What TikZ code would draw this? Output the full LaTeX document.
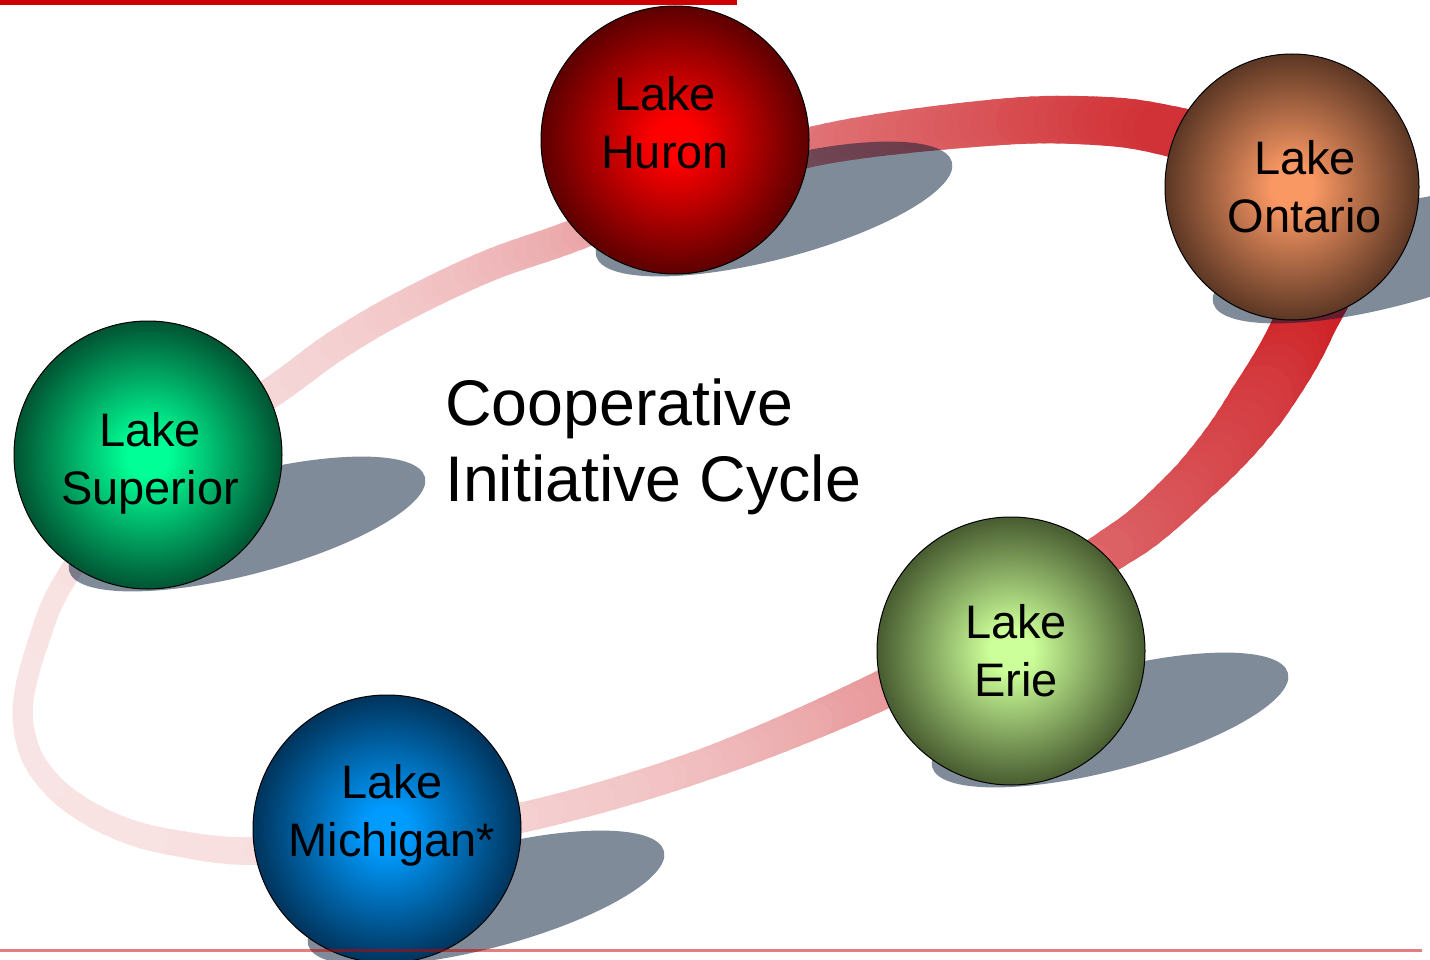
\documentclass[tikz,border=0pt]{standalone}
\usepackage{fontspec}
\setmainfont{Liberation Sans}
\usetikzlibrary{shapes.geometric,decorations.markings}

\definecolor{ribred}{RGB}{205,30,35}
\definecolor{shadowc}{RGB}{0,25,51}
\definecolor{topred}{RGB}{204,0,0}
\definecolor{botred}{RGB}{204,0,0}
\definecolor{huronC}{RGB}{255,0,0}
\definecolor{huronE}{RGB}{92,0,0}
\definecolor{ontC}{RGB}{250,152,100}
\definecolor{ontE}{RGB}{92,55,36}
\definecolor{supC}{RGB}{0,255,150}
\definecolor{supE}{RGB}{0,84,50}
\definecolor{erieC}{RGB}{204,255,153}
\definecolor{erieE}{RGB}{72,92,48}
\definecolor{micC}{RGB}{0,155,255}
\definecolor{micE}{RGB}{0,52,92}

\pgfdeclareradialshading{huronsh}{\pgfpoint{0bp}{0bp}}{color(0bp)=(huronC);color(4bp)=(huronC);color(25bp)=(huronE);color(50bp)=(huronE)}
\pgfdeclareradialshading{ontsh}{\pgfpoint{0bp}{0bp}}{color(0bp)=(ontC);color(4bp)=(ontC);color(25bp)=(ontE);color(50bp)=(ontE)}
\pgfdeclareradialshading{supsh}{\pgfpoint{0bp}{0bp}}{color(0bp)=(supC);color(4bp)=(supC);color(25bp)=(supE);color(50bp)=(supE)}
\pgfdeclareradialshading{eriesh}{\pgfpoint{0bp}{0bp}}{color(0bp)=(erieC);color(4bp)=(erieC);color(25bp)=(erieE);color(50bp)=(erieE)}
\pgfdeclareradialshading{micsh}{\pgfpoint{0bp}{0bp}}{color(0bp)=(micC);color(4bp)=(micC);color(25bp)=(micE);color(50bp)=(micE)}

\makeatletter
\newcommand\pwlin[3]{%
  \gdef\pwl@res{0}\gdef\pwl@pt{-1}\gdef\pwl@pv{0}\gdef\pwl@done{0}%
  \foreach \pa/\pb in #2 {%
    \ifnum\pwl@done=0
      \pgfmathtruncatemacro\pwl@cmp{(#1>\pa)?0:1}%
      \ifnum\pwl@cmp=1
        \pgfmathparse{\pwl@pv+(\pb-\pwl@pv)*(#1-\pwl@pt)/(\pa-\pwl@pt)}%
        \xdef\pwl@res{\pgfmathresult}\gdef\pwl@done{1}%
      \fi
      \xdef\pwl@pt{\pa}\xdef\pwl@pv{\pb}%
    \fi
  }%
  \let#3\pwl@res
}
\makeatother

% parameter u = angle (deg) around the loop centre (700,480), starting at Lake Michigan
\def\widthlist{0/30,8.6/28,30.4/20,45/22,60.2/30,112.7/32,159.7/40,178.6/46,191.6/50,213.8/62,221/60,229/47,239/42,278.1/39,318.6/32,346.6/30,360.1/30}
\def\colorlist{0/18,8.6/15,30.4/12,60.2/18,78.4/24,112.7/38,159.7/62,178.6/76,191.6/91,213.8/100,220.9/89,239.1/71,278.1/47,318.6/31,346.6/22,360.1/18}

\tikzset{
  sphere/.style={circle, minimum size=268pt, inner sep=0pt, shade, draw=black, line width=1pt},
  lakelbl/.style={align=center, inner sep=0pt, text depth=0pt, font=\fontsize{47}{58}\selectfont},
  shadowsty/.style={fill=shadowc, fill opacity=0.5},
}

\begin{document}
\begin{tikzpicture}[x=1pt,y=-1pt]
\useasboundingbox (0,0) rectangle (1430,960);
\fill[white] (0,0) rectangle (1430,960);

% ribbon
\coordinate (prev) at (387,835);
\path[postaction={decorate},decoration={markings,
  mark=between positions 0 and 1 step 0.004 with {
    \pgfgettransformentries{\ma}{\mb}{\mc}{\md}{\mtx}{\mty}
    \pgfmathsetmacro\ru{mod(atan2(-1*(\mty)-480,(\mtx)-700)-131.4+720,360)}
    \pwlin{\ru}{\widthlist}{\rw}
    \pwlin{\ru}{\colorlist}{\rkraw}
    \pgfmathtruncatemacro\rk{\rkraw}
    \draw[line width=\rw pt, draw=ribred!\rk!white, line cap=round] (prev) -- (0,0);
    \coordinate (prev) at (0,0);
  }}]
  plot[smooth cycle, tension=0.6] coordinates {
   (387,835) (257,851) (170,842) (117,827) (73,803) (45,777) (28,747) (23,703)
   (38,643) (65,580) (140,480) (272,392) (334,347) (400,308) (488,266) (580,233)
   (700,180) (830,143) (1000,122) (1100,121) (1165,130) (1240,152) (1300,197)
   (1330,262) (1306,320) (1287,358) (1257,405) (1227,445) (1190,485) (1144,527)
   (1103,555) (1000,625) (880,691) (700,766) (520,818)};

% shadows
\foreach \cx/\cy [count=\i] in {675/140, 1292/187, 148/455, 1011/651, 387/829} {
  \fill[shadowsty, rotate around={14.8:(\cx+99,\cy+69)}] (\cx+99,\cy+69) ellipse [x radius=184, y radius=50];
}

% spheres
\node[sphere, shading=huronsh] (huron) at (675,140) {};
\node[sphere, ellipse, minimum width=254pt, minimum height=266pt, shading=ontsh] (ontario) at (1292,187) {};
\node[sphere, shading=supsh] (superior) at (148,455) {};
\node[sphere, shading=eriesh] (erie) at (1011,651) {};
\node[sphere, shading=micsh] (michigan) at (387,829) {};

% labels
\node[lakelbl] (huronlbl) at (665,122) {Lake\\Huron};
\node[lakelbl] (ontariolbl) at (1305,186) {Lake\\Ontario};
\node[lakelbl] (superiorlbl) at (150,458) {Lake\\Superior};
\node[lakelbl] (erielbl) at (1016,650) {Lake\\Erie};
\node[lakelbl] (michiganlbl) at (392,810) {Lake\\Michigan*};

\node[align=left, anchor=west, inner sep=0pt, text depth=0pt, font=\fontsize{64.5}{76}\selectfont] (title) at (445,440) {Cooperative\\Initiative Cycle};

% rules
\fill[topred] (0,0) rectangle (737,5);
\fill[botred, fill opacity=0.5] (0,949) rectangle (1422,951.5);
\end{tikzpicture}
\end{document}
